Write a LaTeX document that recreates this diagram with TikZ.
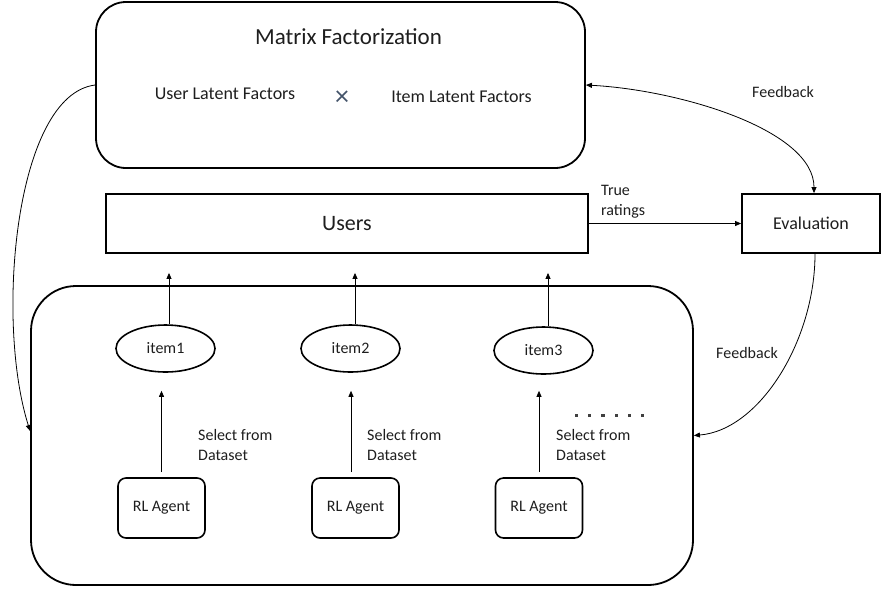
\documentclass[tikz,border=0pt]{standalone}
\usepackage{fontspec}
\setmainfont{Carlito}
\usetikzlibrary{arrows.meta,shapes.geometric}
\definecolor{ink}{HTML}{1E1E1E}
\definecolor{crosscol}{HTML}{44546A}
\begin{document}
\begin{tikzpicture}[x=1pt,y=-1pt,
  box/.style={draw=black, line width=1.8pt, text=ink, inner sep=0pt},
  agentbox/.style={draw=black, line width=1.6pt, rounded corners=8pt, minimum width=87pt, minimum height=60pt, text=ink, inner sep=0pt, font=\fontsize{16}{20}\selectfont},
  itembox/.style={draw=black, ellipse, line width=1.6pt, minimum width=99pt, minimum height=47pt, inner sep=0pt, text=ink, font=\fontsize{16}{20}\selectfont},
  arr/.style={-{Triangle[length=6pt,width=5pt]}, line width=0.8pt, draw=black},
  biarr/.style={{Triangle[length=6pt,width=5pt]}-{Triangle[length=6pt,width=5pt]}, line width=0.8pt, draw=black},
  lbl/.style={font=\fontsize{16}{20}\selectfont, text=ink, inner sep=0pt, align=left},
  midtext/.style={font=\fontsize{18}{22}\selectfont, text=ink, inner sep=0pt},
]
\useasboundingbox (0,0) rectangle (882,590);

% Matrix factorization box
\node[box, rounded corners=30pt, minimum width=489pt, minimum height=166pt] (mf) at (340.5,85) {};
\node[font=\fontsize{23}{28}\selectfont, text=ink, inner sep=0pt] (mftitle) at (348.5,37) {Matrix Factorization};
\node[midtext] (ulf) at (225,94) {User Latent Factors};
\node[font=\fontsize{28}{28}\selectfont, text=crosscol, inner sep=0pt] (times) at (342,98) {×};
\node[midtext] (ilf) at (461.5,97) {Item Latent Factors};

% Users and Evaluation
\node[box, minimum width=482pt, minimum height=59pt, font=\fontsize{22}{26}\selectfont] (users) at (347,223.5) {Users};
\node[box, minimum width=138pt, minimum height=59pt, font=\fontsize{18}{22}\selectfont] (eval) at (811,223.5) {Evaluation};

% Bottom pool
\node[box, rounded corners=45pt, minimum width=662pt, minimum height=299pt] (pool) at (362,435.5) {};

% Items
\node[itembox] (item1) at (165.5,348.5) {item1};
\node[itembox] (item2) at (350.5,348.5) {item2};
\node[itembox] (item3) at (543.5,350.5) {item3};

% Agents
\node[agentbox] (agent1) at (161.5,508) {RL Agent};
\node[agentbox] (agent2) at (355.5,508) {RL Agent};
\node[agentbox] (agent3) at (539,508) {RL Agent};

% Select labels
\node[lbl, anchor=west] (sel1) at (198,445) {Select from\\Dataset};
\node[lbl, anchor=west] (sel2) at (367,445) {Select from\\Dataset};
\node[lbl, anchor=west] (sel3) at (556,445) {Select from\\Dataset};

% dots
\foreach \i in {0,...,5} \fill[ink!85] (575+13.2*\i, 413.5) rectangle ++(3.2,3.2);

% agent -> item arrows
\draw[arr, shorten >=18pt] ([yshift=5pt]agent1.north) -- (agent1.north |- item1.south);
\draw[arr, shorten >=18pt] ([xshift=-4.5pt,yshift=5pt]agent2.north) -- ([xshift=-4.5pt]agent2.north |- item2.south);
\draw[arr, shorten >=16pt] ([yshift=5pt]agent3.north) -- (agent3.north |- item3.south);

% item -> users arrows
\draw[arr, shorten >=19pt] ([xshift=3.5pt]item1.north) -- ([xshift=3.5pt]item1.north |- users.south);
\draw[arr, shorten >=19pt] ([xshift=4.5pt]item2.north) -- ([xshift=4.5pt]item2.north |- users.south);
\draw[arr, shorten >=19pt] ([xshift=4.5pt]item3.north) -- ([xshift=4.5pt]item3.north |- users.south);

% true ratings
\draw[arr] (users.east) -- (eval.west);
\node[lbl, anchor=west] (truelbl) at (601,202) {True\\ratings};

% feedback loops
\draw[biarr] (mf.east) .. controls (680,90) and (814,130) .. ([xshift=3pt]eval.north);
\node[lbl] (fb1) at (783,92) {Feedback};
\draw[arr] ([xshift=4pt]eval.south) .. controls (815,340) and (760,430) .. (pool.east);
\node[lbl] (fb2) at (747,353) {Feedback};

% left loop
\draw[arr] (mf.west) .. controls (15,95) and (-5,320) .. ([yshift=4.5pt]pool.west);
\end{tikzpicture}
\end{document}
